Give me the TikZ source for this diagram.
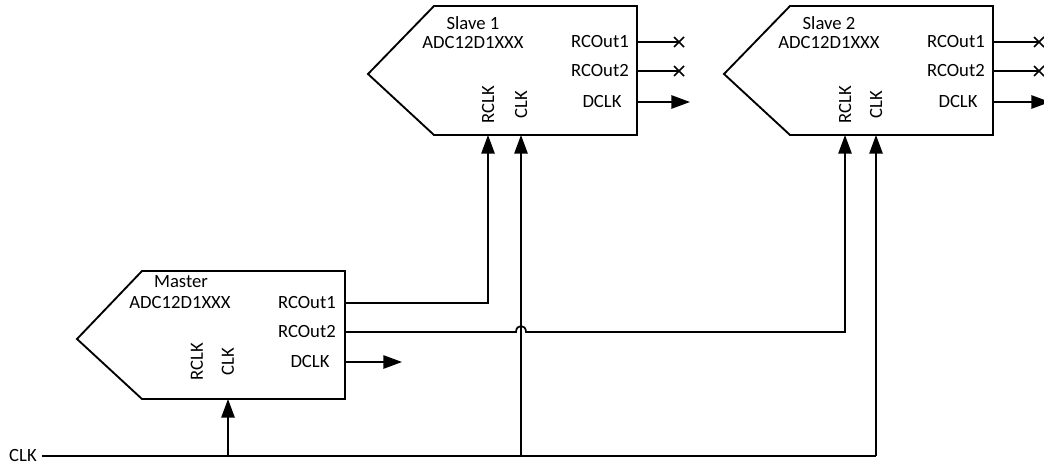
\documentclass[tikz,border=0pt]{standalone}
\usepackage{fontspec}
\setmainfont{Carlito}
\usetikzlibrary{arrows.meta}
\begin{document}
\begin{tikzpicture}[x=0.75pt,y=-0.75pt,
  every node/.style={font=\fontsize{14}{16}\selectfont, inner sep=0pt},
  box/.style={draw=black, line width=1.4pt, line join=miter},
  wire/.style={draw=black, line width=1.3pt},
  arr/.style={wire, -{Triangle[length=14pt,width=10pt]}},
  vlab/.style={rotate=90}]
\useasboundingbox (0,0) rectangle (1044,464);
\clip (0,0) rectangle (1044,464);

% ---------- Master ----------
\draw[box] (142,271) -- (345,271) -- (345,399) -- (142,399) -- (77,339) -- cycle;
\node (mtitle) at (181,282) {Master};
\node (madc) at (180,303) {ADC12D1XXX};
\node[anchor=east] (mro1) at (336,303) {RCOut1};
\node[anchor=east] (mro2) at (336,332) {RCOut2};
\node (mdclk) at (310,362) {DCLK};
\node[vlab] (mrclk) at (197,362) {RCLK};
\node[vlab] (mclk) at (228,362) {CLK};
\coordinate (mo1) at (345,303);
\coordinate (mo2) at (345,332);
\coordinate (mo3) at (345,362);
\coordinate (mo3e) at (402,362);
\coordinate (mclkin) at (228,399);

% ---------- Slave 1 ----------
\draw[box] (434,6) -- (637,6) -- (637,135) -- (434,135) -- (368,74) -- cycle;
\node (atitle) at (473,23) {Slave 1};
\node (aadc) at (473,43) {ADC12D1XXX};
\node[anchor=east] (aro1) at (629,42) {RCOut1};
\node[anchor=east] (aro2) at (629,71) {RCOut2};
\node (adclk) at (602,102) {DCLK};
\node[vlab] (arclk) at (488,105) {RCLK};
\node[vlab] (aclk) at (521,105) {CLK};
\coordinate (ao1) at (637,42);
\coordinate (ao2) at (637,71);
\coordinate (ao3) at (637,102);
\coordinate (ax1) at (679,42);
\coordinate (ax2) at (679,71);
\coordinate (ao3e) at (690,102);
\coordinate (arin) at (488,135);
\coordinate (acin) at (521,135);

% ---------- Slave 2 ----------
\draw[box] (790,6) -- (993,6) -- (993,135) -- (790,135) -- (724,74) -- cycle;
\node (btitle) at (829,23) {Slave 2};
\node (badc) at (829,43) {ADC12D1XXX};
\node[anchor=east] (bro1) at (985,42) {RCOut1};
\node[anchor=east] (bro2) at (985,71) {RCOut2};
\node (bdclk) at (958,102) {DCLK};
\node[vlab] (brclk) at (845,105) {RCLK};
\node[vlab] (bclk) at (876,105) {CLK};
\coordinate (bo1) at (993,42);
\coordinate (bo2) at (993,71);
\coordinate (bo3) at (993,102);
\coordinate (bx1) at (1039,42);
\coordinate (bx2) at (1039,71);
\coordinate (bo3e) at (1050,102);
\coordinate (brin) at (845,135);
\coordinate (bcin) at (876,135);

% ---------- unconnected outputs ----------
\foreach \p/\q in {ao1/ax1, ao2/ax2, bo1/bx1, bo2/bx2} {
  \draw[wire] (\p) -- (\q);
  \draw[wire] ([shift={(-5,-5)}]\q) -- ([shift={(5,5)}]\q);
  \draw[wire] ([shift={(-5,5)}]\q) -- ([shift={(5,-5)}]\q);
}
\draw[arr] (mo3) -- (mo3e);
\draw[arr] (ao3) -- (ao3e);
\draw[arr] (bo3) -- (bo3e);

% ---------- CLK distribution ----------
\node[anchor=east] (clkin) at (37,455) {CLK};
\coordinate (clkA) at (42,456);
\coordinate (clkM) at (228,456);
\coordinate (clkS1) at (521,456);
\coordinate (clkS2) at (876,456);
\draw[wire] (clkA) -- (clkS2);
\draw[arr] (clkS2) -- (bcin);
\draw[arr] (clkM) -- (mclkin);
\draw[arr] (clkS1) -- (acin);

% ---------- RCOut connections ----------
\draw[arr] (mo1) -- (488,303) -- (arin);
\draw[arr] (mo2) -- (516,332) .. controls (516,324) and (526,324) .. (526,332) -- (845,332) -- (brin);
\end{tikzpicture}
\end{document}
